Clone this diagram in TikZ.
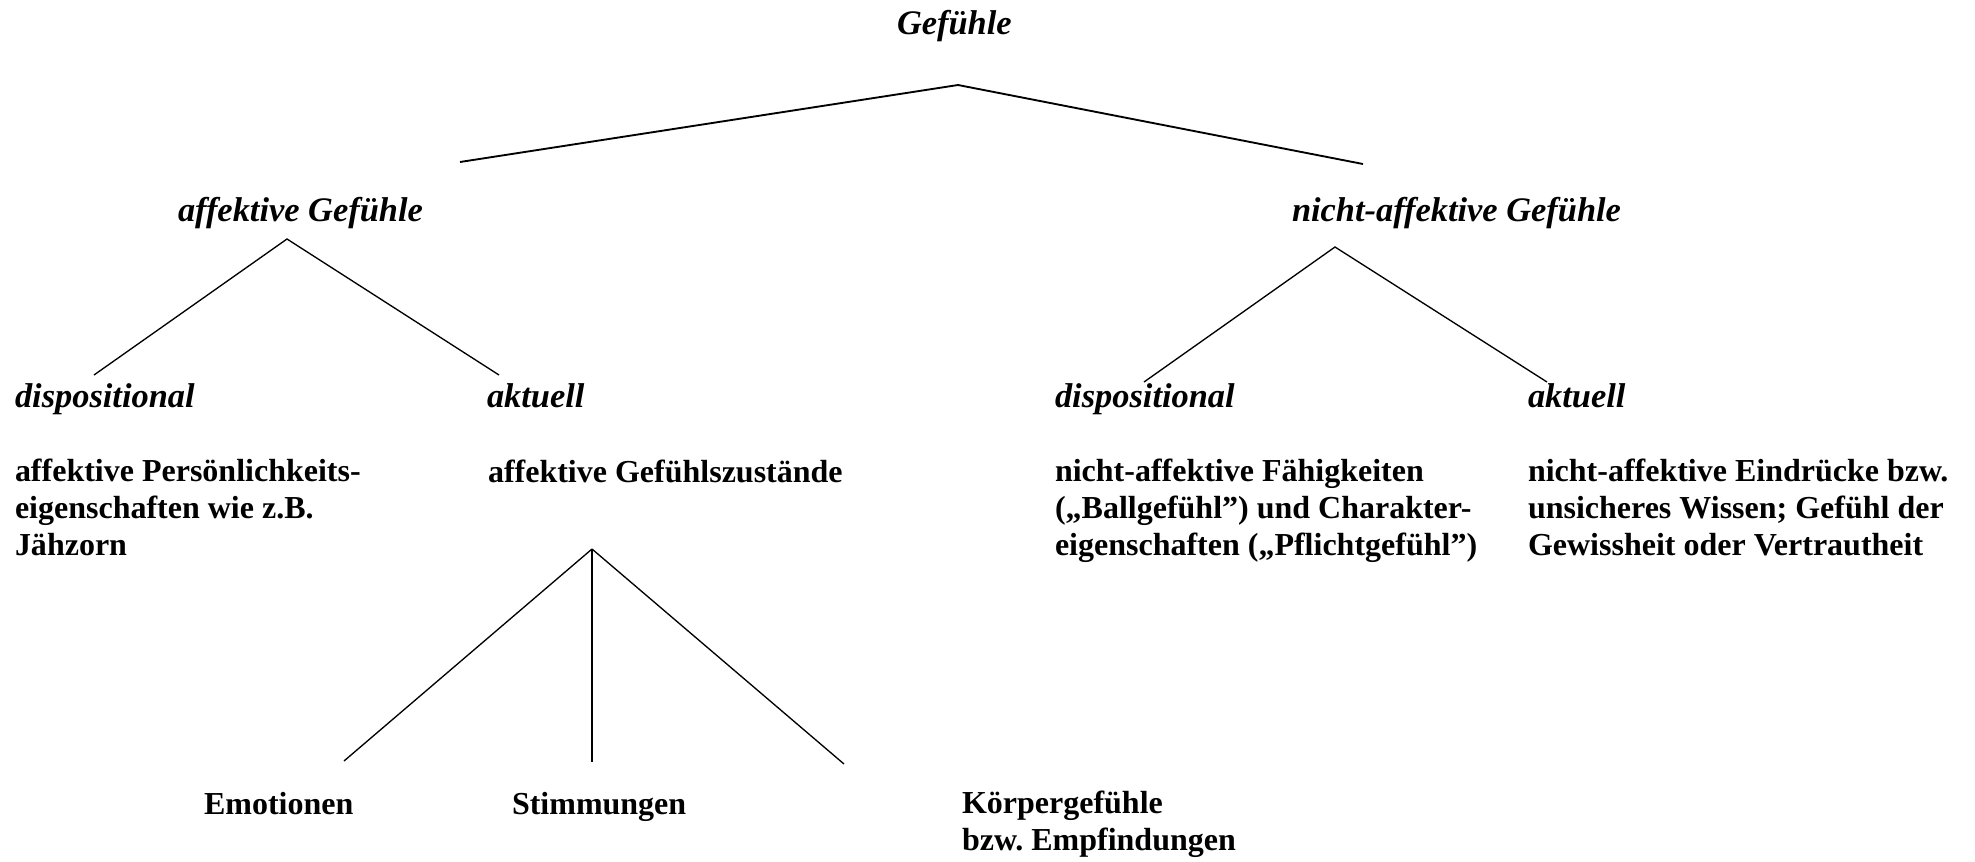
\documentclass[tikz,border=0pt]{standalone}
\usepackage{fontspec}
\setmainfont{Liberation Serif}
\frenchspacing
\begin{document}
\begin{tikzpicture}[x=0.375pt,y=-0.375pt,
  lbl/.style={anchor=base west,inner sep=0pt,outer sep=0pt,font=\fontsize{12pt}{13.7pt}\selectfont\bfseries\frenchspacing},
  ilbl/.style={lbl,font=\fontsize{12.9pt}{14pt}\selectfont\bfseries\itshape},
  blk/.style={lbl,align=left},
  edge/.style={line width=0.5pt},
  topedge/.style={line width=0.7pt}]
\useasboundingbox (0,0) rectangle (1975,861);
% texts (multi-line blocks are placed by the baseline of their last line)
\node[ilbl] (root) at (897,34) {Gefühle};
\node[ilbl] (aff) at (178,221) {affektive Gefühle};
\node[ilbl] (naff) at (1292,221) {nicht-affektive Gefühle};
\node[ilbl] (d1) at (15,407) {dispositional};
\node[ilbl] (a1) at (487,407) {aktuell};
\node[ilbl] (d2) at (1055,407) {dispositional};
\node[ilbl] (a2) at (1528,407) {aktuell};
\node[blk] (t1) at (15,555) {affektive Persönlichkeits-\\eigenschaften wie z.B.\\Jähzorn};
\node[blk] (t2) at (488,482) {affektive Gefühlszustände};
\node[blk] (t3) at (1055,555) {nicht-affektive Fähigkeiten\\(„Ballgefühl”) und Charakter-\\eigenschaften („Pflichtgefühl”)};
\node[blk] (t4) at (1528,555) {nicht-affektive Eindrücke bzw.\\unsicheres Wissen; Gefühl der\\Gewissheit oder Vertrautheit};
\node[lbl] (emo) at (204,814) {Emotionen};
\node[lbl] (sti) at (512,814) {Stimmungen};
\node[blk] (koe) at (962,850) {Körpergefühle\\bzw. Empfindungen};
% connector points
\coordinate (p0) at (958,85);
\coordinate (p0l) at (460,162);
\coordinate (p0r) at (1363,164);
\coordinate (p1) at (287,239);
\coordinate (p1l) at (94,375);
\coordinate (p1r) at (499,375);
\coordinate (p2) at (1335,247);
\coordinate (p2l) at (1144,382);
\coordinate (p2r) at (1547,382);
\coordinate (p3) at (592,549);
\coordinate (p3l) at (344,761);
\coordinate (p3m) at (592,762);
\coordinate (p3r) at (844,764);
% connectors
\draw[topedge] (p0l) -- (p0) -- (p0r);
\draw[edge] (p1l) -- (p1) -- (p1r);
\draw[edge] (p2l) -- (p2) -- (p2r);
\draw[edge] (p3l) -- (p3);
\draw[edge] (p3m) -- (p3);
\draw[edge] (p3r) -- (p3);
\end{tikzpicture}
\end{document}
